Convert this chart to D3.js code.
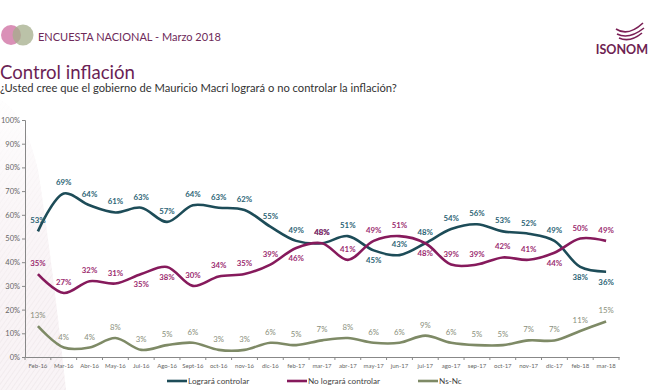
<!DOCTYPE html>
<html>
<head>
<meta charset="utf-8">
<script src="https://cdn.jsdelivr.net/npm/d3@7"></script>
<style>
  body { margin: 0; background: #fff; }
  svg { display: block; font-family: Lato, "Open Sans", sans-serif; }
</style>
</head>
<body>
<svg id="chart" width="650" height="390"></svg>
<script>
var months = ["Feb-16","Mar-16","Abr-16","May-16","Jul-16","Ago-16","Sept-16","oct-16","nov-16","dic-16",
  "feb-17","mar-17","abr-17","may-17","jun-17","jul-17","ago-17","sep-17","oct-17","nov-17","dic-17","feb-18","mar-18"];
var lograra   = [53,69,64,61,63,57,64,63,62,55,49,48,51,45,43,48,54,56,53,52,49,38,36];
var noLograra = [35,27,32,31,35,38,30,34,35,39,46,48,41,49,51,48,39,39,42,41,44,50,49];
var nsnc      = [13,4,4,8,3,5,6,3,3,6,5,7,8,6,6,9,6,5,5,7,7,11,15];
var yTicks = [0,0.1,0.2,0.3,0.4,0.5,0.6,0.7,0.8,0.9,1];

var series = [
  {name: "Logrará controlar", values: lograra, color: "#1d4c58", label: "#2c6475", below: [13,21,22]},
  {name: "No logrará controlar", values: noLograra, color: "#861a5c", label: "#9b2b70", below: [4,5,10,15,20]},
  {name: "Ns-Nc", values: nsnc, color: "#7e8a66", label: "#8a8f7c", below: []}
];

var svg = d3.select("#chart");

// faint striped decoration on the left
var defs = svg.append("defs");
var pat = defs.append("pattern").attr("id", "stripes")
  .attr("width", 4).attr("height", 4).attr("patternUnits", "userSpaceOnUse")
  .attr("patternTransform", "rotate(35)");
pat.append("rect").attr("width", 4).attr("height", 4).attr("fill", "#fcfafb");
pat.append("line").attr("x1", 0).attr("y1", 0).attr("x2", 0).attr("y2", 4)
  .attr("stroke", "#e6e2e4").attr("stroke-width", 1);
var grad = defs.append("linearGradient").attr("id", "fade").attr("x1", 0).attr("y1", 0).attr("x2", 0).attr("y2", 1);
grad.append("stop").attr("offset", "0%").attr("stop-color", "#fff").attr("stop-opacity", 0.9);
grad.append("stop").attr("offset", "100%").attr("stop-color", "#f1e3e9").attr("stop-opacity", 0.25);
var deco = "M0,100 Q24,112 38,170 Q52,260 66,390 L0,390 Z";
svg.append("path").attr("d", deco).attr("fill", "url(#stripes)");
svg.append("path").attr("d", deco).attr("fill", "url(#fade)");

// header
var logo = svg.append("g");
logo.append("circle").attr("cx", 11).attr("cy", 35).attr("r", 10).attr("fill", "#d88ab3").attr("opacity", 0.95);
logo.append("circle").attr("cx", 23).attr("cy", 35).attr("r", 10.5).attr("fill", "#a4ad8b").attr("opacity", 0.75);
svg.append("text").attr("x", 38).attr("y", 41).attr("font-size", 11).attr("fill", "#6e2a5a")
  .text("ENCUESTA NACIONAL - Marzo 2018");

var iso = svg.append("g").attr("fill", "none").attr("stroke", "#7a1f55").attr("stroke-width", 1.6);
iso.append("path").attr("d", "M616,29 Q628,37 643,23");
iso.append("path").attr("d", "M617,34 Q629,40 644,28");
iso.append("path").attr("d", "M619,38 Q630,43 642,33");
svg.append("text").attr("x", 648).attr("y", 54).attr("text-anchor", "end")
  .attr("font-size", 12.5).attr("font-weight", "bold").attr("fill", "#6e1f52").text("ISONOM");

svg.append("text").attr("x", 0).attr("y", 79).attr("font-size", 18.6).attr("fill", "#6b1f55")
  .text("Control inflación");
svg.append("text").attr("x", 0).attr("y", 92).attr("font-size", 11.2).attr("fill", "#333")
  .text("¿Usted cree que el gobierno de Mauricio Macri logrará o no controlar la inflación?");

// scales
var x = d3.scaleBand().domain(months).range([25, 619]).paddingInner(0).paddingOuter(0);
var y = d3.scaleLinear().domain([0, 1]).range([357, 120]);
var cx = function(i) { return x(months[i]) + x.bandwidth() / 2; };

// axes
var yAxis = svg.append("g").attr("transform", "translate(25,0)")
  .call(d3.axisLeft(y).tickValues(yTicks).tickFormat(d3.format(".0%")).tickSize(3).tickPadding(2));
yAxis.select(".domain").attr("stroke", "#888");
yAxis.selectAll(".tick line").attr("stroke", "#888");
yAxis.selectAll("text").attr("font-size", 7.5).attr("fill", "#666").attr("font-family", "Lato, sans-serif");

var xAxis = svg.append("g").attr("transform", "translate(0,357)")
  .call(d3.axisBottom(x).tickSize(0).tickPadding(7).tickSizeOuter(0));
xAxis.select(".domain").attr("stroke", "#888");
xAxis.selectAll("text").attr("font-size", 6).attr("fill", "#666").attr("font-family", "Lato, sans-serif");
svg.append("g").selectAll("line").data(d3.range(months.length + 1)).join("line")
  .attr("x1", function(i) { return 25 + i * x.bandwidth(); })
  .attr("x2", function(i) { return 25 + i * x.bandwidth(); })
  .attr("y1", 357).attr("y2", 360).attr("stroke", "#888");

// lines
var line = d3.line()
  .x(function(d, i) { return cx(i); })
  .y(function(d) { return y(d / 100); })
  .curve(d3.curveCatmullRom.alpha(0.5));

series.forEach(function(s) {
  svg.append("path").datum(s.values)
    .attr("d", line).attr("fill", "none")
    .attr("stroke", s.color).attr("stroke-width", 2.6);
});

// labels
series.forEach(function(s) {
  svg.append("g").selectAll("text").data(s.values).join("text")
    .attr("x", function(d, i) { return cx(i); })
    .attr("y", function(d, i) { return y(d / 100) + (s.below.indexOf(i) >= 0 ? 13 : -8); })
    .attr("text-anchor", "middle")
    .attr("font-size", 7.8).attr("font-weight", s.name == "Ns-Nc" ? "normal" : "bold")
    .attr("fill", s.label)
    .text(function(d) { return d + "%"; });
});

// legend
var legX = [167, 287, 418];
var leg = svg.append("g").selectAll("g").data(series).join("g")
  .attr("transform", function(d, i) { return "translate(" + legX[i] + ",381)"; });
leg.append("line").attr("x1", 0).attr("x2", 20).attr("y1", 0).attr("y2", 0)
  .attr("stroke", function(d) { return d.color; }).attr("stroke-width", 2.6);
leg.append("text").attr("x", 21).attr("y", 3).attr("font-size", 8.2).attr("fill", "#444")
  .text(function(d) { return d.name; });
</script>
</body>
</html>
